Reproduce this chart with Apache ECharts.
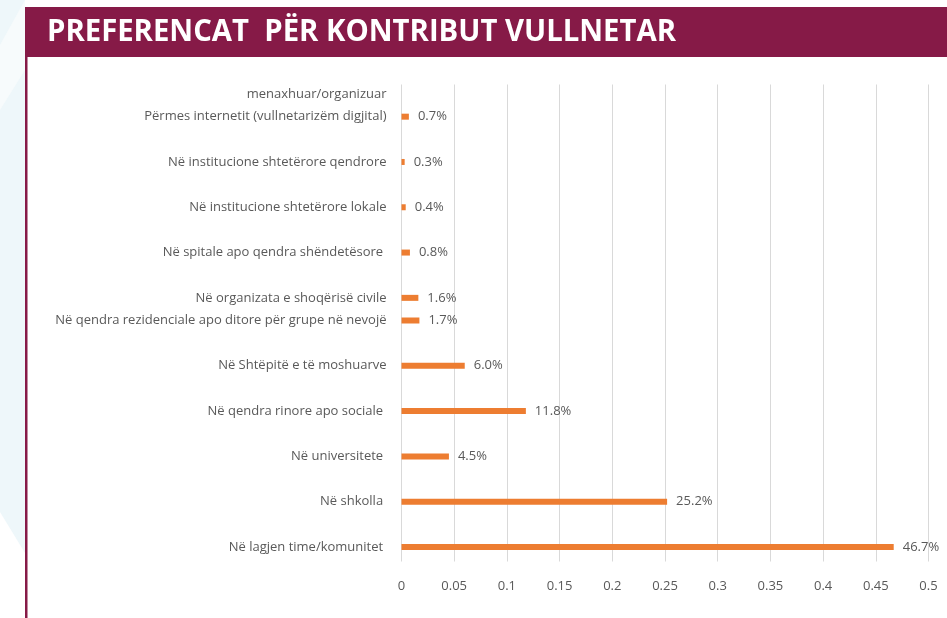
<!DOCTYPE html>
<html>
<head>
<meta charset="utf-8">
<script src="https://cdn.jsdelivr.net/npm/echarts@6/dist/echarts.min.js"></script>
<style>
html,body{margin:0;padding:0;background:#ffffff;}
#chart{width:947px;height:618px;}
</style>
</head>
<body>
<div id="chart"></div>
<script>
// ---- data (top to bottom; '' = empty spacing slot) ----
const titleText = 'PREFERENCAT  PËR KONTRIBUT VULLNETAR';
const categories = [
  'menaxhuar/organizuar',
  'Përmes internetit (vullnetarizëm digjital)',
  '',
  'Në institucione shtetërore qendrore',
  '',
  'Në institucione shtetërore lokale',
  '',
  'Në spitale apo qendra shëndetësore ',
  '',
  'Në organizata e shoqërisë civile',
  'Në qendra rezidenciale apo ditore për grupe në nevojë',
  '',
  'Në Shtëpitë e të moshuarve',
  '',
  'Në qendra rinore apo sociale ',
  '',
  'Në universitete ',
  '',
  'Në shkolla ',
  '',
  'Në lagjen time/komunitet '
];
const values = [
  null, 0.007, null, 0.003, null, 0.004, null, 0.008, null, 0.016, 0.017,
  null, 0.060, null, 0.118, null, 0.045, null, 0.252, null, 0.467
];
const axisMin = 0, axisMax = 0.5, axisStep = 0.05;

// ---- styles ----
const maroon = '#861A47';
const gray = '#595959';
const font = '"Open Sans", "Noto Sans", sans-serif';

const chart = echarts.init(document.getElementById('chart'), null, {renderer: 'canvas'});

// measure title to compress it like the condensed original
const mctx = document.createElement('canvas').getContext('2d');
mctx.font = 'bold 31px "Open Sans"';
const titleW = mctx.measureText(titleText).width;
const titleScale = 629 / titleW;

const option = {
  backgroundColor: '#ffffff',
  animation: false,
  graphic: [
    {type: 'rect', z: -10, shape: {x: 0, y: 0, width: 25, height: 618}, style: {fill: '#EEF7FA'}},
    {type: 'polygon', z: -9, shape: {points: [[0, 45], [25, 0], [25, 70], [0, 110]]}, style: {fill: '#F7FBFC'}},
    {type: 'polygon', z: -9, shape: {points: [[0, 512], [25, 553], [25, 618], [0, 618]]}, style: {fill: '#ffffff'}},
    {type: 'rect', z: -8, shape: {x: 25, y: 7, width: 922, height: 50}, style: {fill: maroon}},
    {type: 'rect', z: -8, shape: {x: 25, y: 57, width: 2.5, height: 561}, style: {fill: maroon}},
    {type: 'text', z: 10, x: 47, y: 32, scaleX: titleScale,
      style: {text: titleText, fill: '#ffffff', font: 'bold 31px "Open Sans"', textVerticalAlign: 'middle', textAlign: 'left'}}
  ],
  grid: [
    {left: 401.5, right: 18.5, top: 82.7, bottom: 59.7},
    {left: 401.5, right: 18.5, top: 84.5, bottom: 56.5}
  ],
  xAxis: [
    {gridIndex: 0, type: 'value', min: axisMin, max: axisMax, interval: axisStep, show: false},
    {gridIndex: 1, type: 'value', min: axisMin, max: axisMax, interval: axisStep,
      axisLine: {show: false}, axisTick: {show: false},
      splitLine: {show: true, lineStyle: {color: '#D9D9D9', width: 1}},
      axisLabel: {color: gray, fontSize: 13, fontFamily: font, margin: 18}}
  ],
  yAxis: [
    {gridIndex: 0, type: 'category', data: categories, inverse: true,
      axisLine: {show: false}, axisTick: {show: false}, splitLine: {show: false},
      axisLabel: {interval: 0, color: gray, fontSize: 13, fontFamily: font, margin: 15}},
    {gridIndex: 1, type: 'value', show: false}
  ],
  series: [{
    type: 'bar',
    xAxisIndex: 0, yAxisIndex: 0,
    data: values,
    barWidth: 6,
    itemStyle: {color: '#ED7D31'},
    label: {
      show: true, position: 'right', distance: 9,
      color: gray, fontSize: 13, fontFamily: font,
      formatter: p => (p.value == null ? '' : (p.value * 100).toFixed(1) + '%')
    }
  }]
};
chart.setOption(option);
</script>
</body>
</html>
